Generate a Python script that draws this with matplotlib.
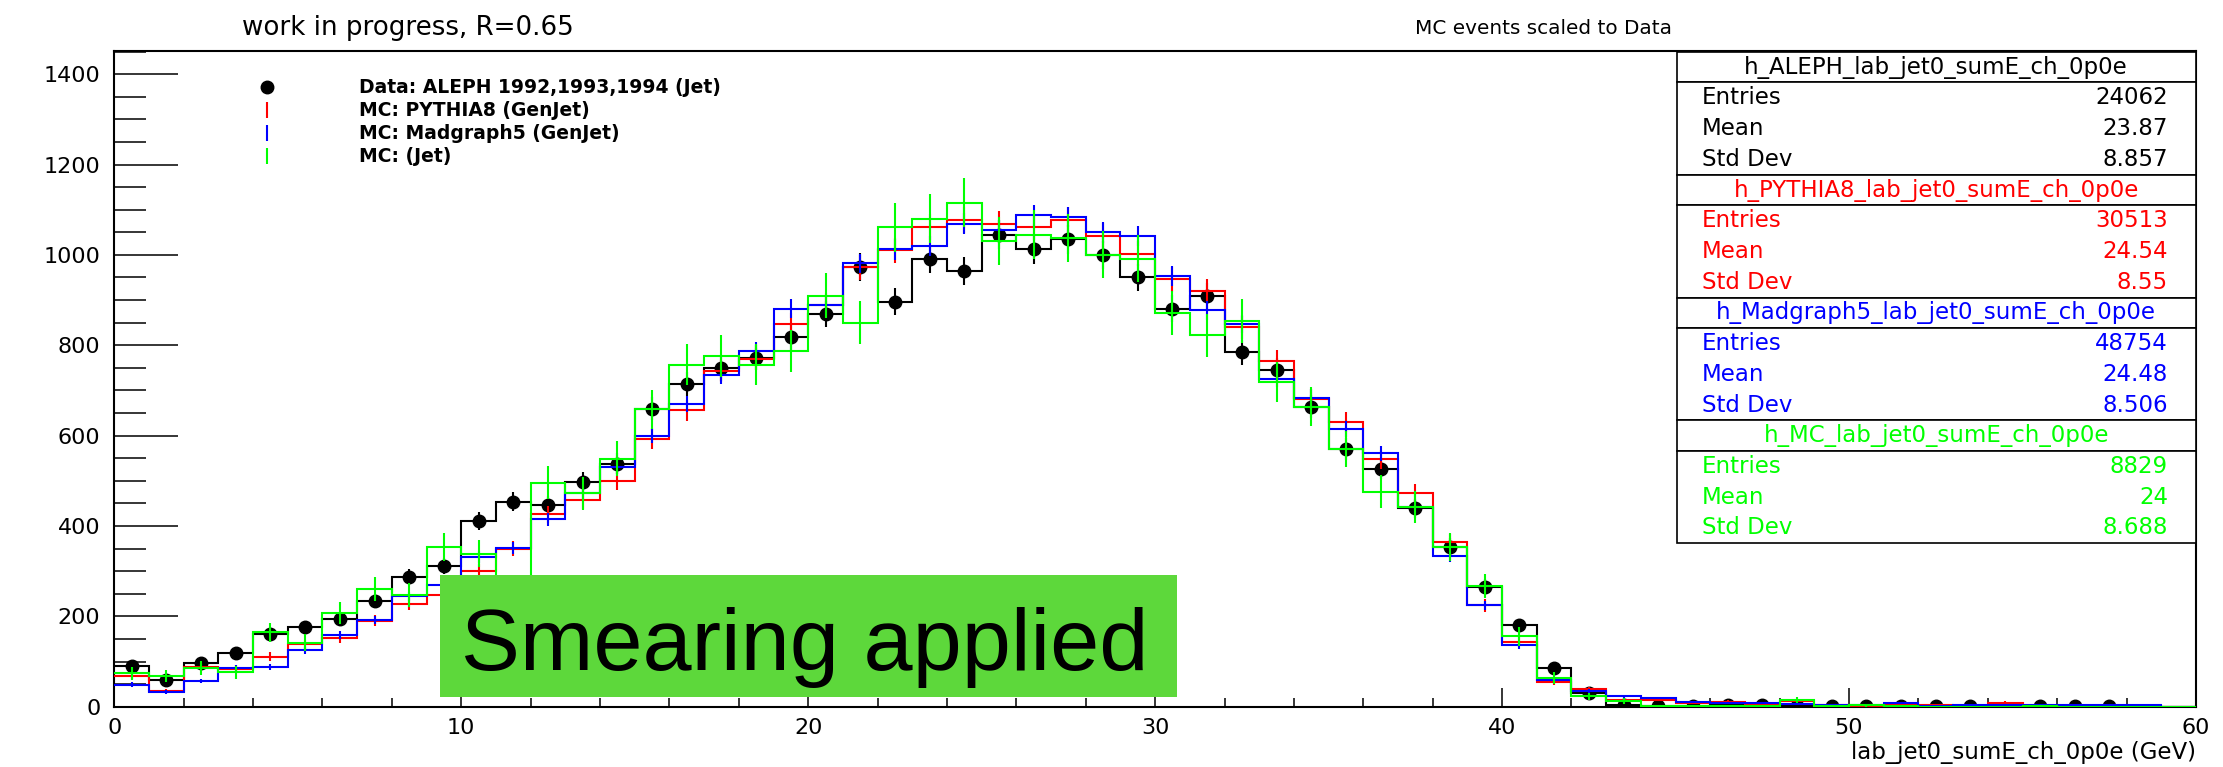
import numpy as np
import matplotlib
matplotlib.use("Agg")
import matplotlib.pyplot as plt
from matplotlib.patches import Rectangle
from matplotlib.lines import Line2D

# bin contents, 1 GeV bins from 0 to 60
data_counts = [89, 60, 96, 118, 162, 176, 194, 234, 288, 311,
               411, 454, 446, 498, 538, 660, 715, 749, 772, 819,
               869, 973, 896, 991, 965, 1045, 1012, 1035, 1000, 950,
               881, 908, 784, 745, 664, 571, 526, 439, 354, 266,
               180, 85, 30, 3, 2, 2, 4, 4, 2, 2,
               1, 2, 2, 2, 0, 2, 2, 2, 0, 0]
pythia_counts = [68, 35, 88, 84, 111, 138, 151, 190, 227, 247,
                 300, 350, 426, 457, 499, 593, 656, 743, 769, 846,
                 890, 973, 1010, 1061, 1077, 1069, 1061, 1077, 1042, 1003,
                 946, 920, 840, 765, 680, 631, 548, 473, 365, 224,
                 144, 55, 39, 15, 15, 8, 11, 6, 13, 3,
                 2, 3, 4, 2, 9, 2, 2, 2, 1, 0]
madgraph_counts = [49, 33, 57, 85, 87, 125, 158, 192, 244, 270,
                   331, 352, 415, 472, 531, 600, 670, 734, 788, 881,
                   889, 981, 1012, 1019, 1069, 1055, 1088, 1084, 1050, 1042,
                   953, 877, 847, 726, 684, 615, 561, 442, 333, 224,
                   137, 59, 34, 23, 19, 11, 9, 9, 5, 4,
                   3, 9, 2, 4, 3, 4, 3, 4, 4, 0]
mcjet_counts = [74, 68, 85, 76, 165, 142, 207, 260, 247, 354,
                339, 240, 496, 472, 549, 658, 757, 776, 757, 788,
                910, 850, 1061, 1080, 1116, 1031, 1045, 1038, 1000, 992,
                872, 822, 854, 719, 664, 571, 476, 442, 354, 267,
                156, 63, 23, 13, 1, 1, 2, 1, 15, 1,
                3, 1, 0, 0, 0, 2, 0, 0, 0, 0]

bin_edges = np.linspace(0, 60, 61)

legend_labels = ["Data: ALEPH 1992,1993,1994 (Jet)", "MC: PYTHIA8 (GenJet)",
                 "MC: Madgraph5 (GenJet)", "MC: (Jet)"]
stat_titles = ["h_ALEPH_lab_jet0_sumE_ch_0p0e", "h_PYTHIA8_lab_jet0_sumE_ch_0p0e",
               "h_Madgraph5_lab_jet0_sumE_ch_0p0e", "h_MC_lab_jet0_sumE_ch_0p0e"]
stat_entries = [24062, 30513, 48754, 8829]
stat_means = ["23.87", "24.54", "24.48", "24"]
stat_stddevs = ["8.857", "8.55", "8.506", "8.688"]
colors = ["black", "#ff0000", "#0000ff", "#00ff00"]

W, H = 2223, 767


def fx(px):
    return px / W


def fy(py):
    return 1 - py / H


plt.rcParams['font.family'] = ['DejaVu Sans']
fig = plt.figure(figsize=(W / 100, H / 100), dpi=100)
ax = fig.add_axes([fx(114.3), fy(706.7), (2196 - 114.3) / W, (706.7 - 50.7) / H])

centers = 0.5 * (bin_edges[:-1] + bin_edges[1:])
data = np.array(data_counts, dtype=float)

# data: step outline + markers with sqrt(N) errors
ax.stairs(data, bin_edges, color="black", lw=1.5, baseline=None, zorder=2)
mask = data > 0
ax.errorbar(centers[mask], data[mask], yerr=np.sqrt(data[mask]), fmt="o", color="black",
            ms=9, elinewidth=1.5, capsize=0, zorder=2.5)

# MC, scaled to data, errors from the scaled Poisson counts
mc_sets = [pythia_counts, madgraph_counts, mcjet_counts]
for k, counts in enumerate(mc_sets):
    vals = np.array(counts, dtype=float)
    scale = stat_entries[0] / stat_entries[k + 1]
    ax.stairs(vals, bin_edges, color=colors[k + 1], lw=1.5, baseline=None, zorder=3 + k)
    m = vals > 0
    ax.errorbar(centers[m], vals[m], yerr=np.sqrt(vals[m] * scale), fmt="none",
                ecolor=colors[k + 1], elinewidth=1.5, capsize=0, zorder=3 + k)

ax.set_xlim(0, 60)
ax.set_ylim(0, 1452)
ax.set_xticks(np.arange(0, 61, 10))
ax.set_xticks(np.arange(0, 61, 2), minor=True)
ax.set_yticks(np.arange(0, 1401, 200))
ax.set_yticks(np.arange(0, 1451, 50), minor=True)
ax.tick_params(axis="y", which="major", direction="in", length=46, width=1.1, labelsize=16, pad=10)
ax.tick_params(axis="y", which="minor", direction="in", length=23, width=1.1)
ax.tick_params(axis="x", which="major", direction="in", length=13.7, width=1.1, labelsize=16, pad=8)
ax.tick_params(axis="x", which="minor", direction="in", length=6.5, width=1.1)
for s in ax.spines.values():
    s.set_linewidth(1.5)

ax.set_xlabel("lab_jet0_sumE_ch_0p0e (GeV)", fontsize=16.5, ha="right", va="top")
ax.xaxis.set_label_coords(1.0, -0.052)

# legend, top left inside the frame
handles = [Line2D([], [], marker="o", ms=9, color="black", linestyle="none")]
for c in colors[1:]:
    handles.append(Line2D([], [], marker="|", ms=12, mew=1.5, color=c, linestyle="none"))
fig.legend(handles, legend_labels, loc="upper left", bbox_to_anchor=(fx(238.9), fy(69)),
           frameon=False, borderpad=0, handlelength=2, handletextpad=3.9, labelspacing=0.21,
           prop={"weight": "bold", "size": 13.5})

fig.text(fx(408), fy(28), "work in progress, R=0.65", fontsize=18.8, ha="center", va="center")
fig.text(fx(1543.5), fy(29), "MC events scaled to Data", fontsize=14.4, ha="center", va="center")

# stats boxes
box_l, box_r = 1676.5, 2196
for i in range(4):
    top = 51.7 + 122.9 * i
    fig.add_artist(Rectangle((fx(box_l), fy(top + 30.5)), (box_r - box_l) / W, 30.5 / H,
                             transform=fig.transFigure, facecolor="white", edgecolor="black", lw=1.2))
    fig.add_artist(Rectangle((fx(box_l), fy(top + 122.9)), (box_r - box_l) / W, 92.4 / H,
                             transform=fig.transFigure, facecolor="white", edgecolor="black", lw=1.2))
    fig.text(fx((box_l + box_r) / 2), fy(top + 15.5), stat_titles[i], color=colors[i],
             fontsize=16.5, ha="center", va="center")
    rows = [("Entries", str(stat_entries[i])), ("Mean", stat_means[i]), ("Std Dev", stat_stddevs[i])]
    for j, (name, val) in enumerate(rows):
        y = top + 46 + 30.8 * j
        fig.text(fx(1702), fy(y), name, color=colors[i], fontsize=16.5, ha="left", va="center")
        fig.text(fx(2168), fy(y), val, color=colors[i], fontsize=16.5, ha="right", va="center")

# green annotation
fig.add_artist(Rectangle((fx(439.5), fy(697.3)), (1176.7 - 439.5) / W, (697.3 - 575) / H,
                         transform=fig.transFigure, facecolor="#5dd83b", edgecolor="none"))
fig.text(fx(461), fy(670), "Smearing applied", fontsize=63.5, family=["Liberation Sans", "DejaVu Sans"],
         ha="left", va="baseline", color="black")

fig.savefig("out.png", dpi=100)
